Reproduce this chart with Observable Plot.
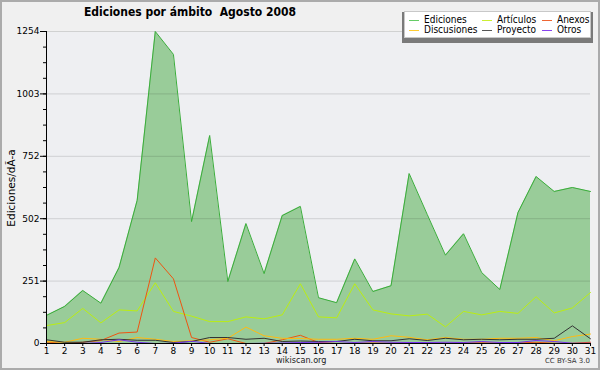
<!DOCTYPE html>
<html>
<head>
<meta charset="utf-8">
<script src="https://cdn.jsdelivr.net/npm/d3@7"></script>
<script src="https://cdn.jsdelivr.net/npm/@observablehq/plot@0.6"></script>
<style>
  html, body { margin: 0; padding: 0; background: #fff; }
  #wrap { position: relative; width: 600px; height: 370px; box-sizing: border-box; border: 2px solid #ababab; background: #f0f0f0; overflow: hidden; font-family: "DejaVu Sans", sans-serif; }
  #chart { position: absolute; left: -2px; top: -2px; width: 600px; height: 370px; }
  #chart svg { max-width: none; }
  .title { position: absolute; left: 0; width: 376px; top: 3px; text-align: center; font-family: "DejaVu Sans Condensed", "DejaVu Sans", sans-serif; font-weight: bold; font-size: 12px; color: #000; white-space: pre; }
  .ylab { position: absolute; left: 9px; top: 186px; transform: translate(-50%, -50%) rotate(-90deg); font-size: 10.5px; white-space: nowrap; }
  .foot { position: absolute; font-family: "DejaVu Sans Condensed", "DejaVu Sans", sans-serif; font-size: 9px; color: #222; }
  .cc { position: absolute; right: 8px; top: 355px; font-size: 7px; color: #333; }
  .legend { position: absolute; left: 402px; top: 9px; width: 185px; height: 25px; background: #fff; border: 1px solid #c8c8c8; box-shadow: 0 3px 0 2px #7a7a7a; font-family: "DejaVu Sans Condensed", "DejaVu Sans", sans-serif; font-size: 10px; }
  .li { position: absolute; white-space: nowrap; line-height: 10px; height: 10px; }
  .li span.sw { position: absolute; left: 0; top: 5px; width: 10px; height: 1px; }
  .li span.tx { position: absolute; left: 15px; top: 0; }
</style>
</head>
<body>
<div id="wrap">
  <div id="chart"></div>
</div>
<script>
const days = d3.range(1, 32);
const seriesNames = ["Ediciones", "Artículos", "Anexos", "Discusiones", "Proyecto", "Otros"];
const seriesColors = ["#3aad3a", "#bbee11", "#ee5511", "#ffbb11", "#333333", "#7733ee"];
const legendColors = ["#66cc66", "#ccee33", "#ee6633", "#ffcc33", "#555555", "#8844ee"];
const ediciones = [113, 149, 213, 162, 305, 575, 1254, 1162, 490, 836, 249, 482, 281, 514, 551, 184, 164, 340, 209, 232, 683, 518, 355, 441, 285, 217, 526, 671, 611, 627, 611];
const articulos = [72, 84, 141, 83, 135, 131, 244, 129, 110, 88, 88, 107, 99, 115, 240, 107, 103, 240, 135, 119, 111, 118, 67, 129, 115, 129, 121, 188, 123, 143, 205];
const anexos = [6, 0, 5, 12, 42, 46, 344, 260, 24, 5, 19, 0, 0, 15, 33, 4, 0, 1, 2, 1, 3, 2, 1, 2, 3, 1, 2, 5, 1, 1, 5];
const discusiones = [8, 5, 21, 17, 8, 24, 17, 8, 11, 15, 21, 66, 31, 21, 20, 17, 17, 21, 17, 31, 25, 15, 24, 17, 17, 21, 21, 24, 11, 28, 38];
const proyecto = [15, 5, 5, 15, 17, 13, 13, 4, 8, 24, 24, 17, 21, 8, 10, 8, 8, 17, 11, 11, 19, 12, 21, 15, 17, 15, 17, 17, 21, 71, 19];
const otros = [0, 0, 0, 4, 15, 5, 0, 1, 9, 0, 0, 0, 1, 2, 4, 5, 8, 4, 8, 5, 4, 4, 5, 4, 8, 4, 4, 12, 8, 1, 1];
const yTickValues = [0, 250.8, 501.6, 752.4, 1003.2, 1254];
const yTickLabels = ["0", "251", "502", "752", "1003", "1254"];
const titleText = "Ediciones por ámbito  Agosto 2008";
const yLabelText = "Ediciones/dÃ-a";
const footText = "wikiscan.org";
const ccText = "CC BY-SA 3.0";

const allSeries = [ediciones, articulos, anexos, discusiones, proyecto, otros];
const rows = [];
allSeries.forEach((arr, s) => days.forEach((d, i) => rows.push({day: d, value: arr[i], series: seriesNames[s]})));
const edRows = days.map((d, i) => ({day: d, value: ediciones[i]}));
const minorTicks = d3.range(0, 21).map(k => k * 1254 / 20);

const plot = Plot.plot({
  width: 600,
  height: 370,
  marginLeft: 46,
  marginRight: 10,
  marginTop: 31,
  marginBottom: 27,
  style: {background: "transparent", fontFamily: "DejaVu Sans, sans-serif", fontSize: "9px", color: "#000"},
  x: {domain: [1, 31]},
  y: {domain: [0, 1254]},
  marks: [
    Plot.frame({fill: "#eeeff2", stroke: null}),
    Plot.areaY(edRows, {x: "day", y: "value", fill: "#99cc99"}),
    Plot.ruleY(yTickValues.slice(1), {stroke: "#000", strokeOpacity: 0.13}),
    ...seriesNames.map((name, s) => Plot.lineY(rows.filter(r => r.series === name), {x: "day", y: "value", stroke: seriesColors[s], strokeWidth: 1})),
    Plot.axisY({ticks: minorTicks, tickSize: 3, tickFormat: () => "", label: null}),
    Plot.axisY({ticks: yTickValues, tickSize: 6, tickPadding: 1, tickFormat: (d, i) => yTickLabels[i], label: null}),
    Plot.axisX({ticks: days, tickSize: 3, tickPadding: 1, tickFormat: d => String(d), label: null}),
    Plot.ruleX([1], {stroke: "#000"}),
    Plot.ruleY([0], {stroke: "#000"})
  ]
});
document.getElementById("chart").appendChild(plot);

const wrap = document.getElementById("wrap");
function addDiv(cls, text, style) {
  const el = document.createElement("div");
  el.className = cls;
  el.textContent = text;
  Object.assign(el.style, style || {});
  wrap.appendChild(el);
  return el;
}
addDiv("title", titleText);
addDiv("ylab", yLabelText);
addDiv("foot", footText, {left: "274px", top: "353px"});
addDiv("cc", ccText);

const legend = document.createElement("div");
legend.className = "legend";
wrap.appendChild(legend);
const colX = [4, 77, 137];
seriesNames.forEach((name, k) => {
  const col = k % 3, row = Math.floor(k / 3);
  const li = document.createElement("div");
  li.className = "li";
  li.style.left = colX[col] + "px";
  li.style.top = (3 + row * 10) + "px";
  const sw = document.createElement("span");
  sw.className = "sw";
  sw.style.background = legendColors[k];
  const tx = document.createElement("span");
  tx.className = "tx";
  tx.textContent = name;
  li.appendChild(sw);
  li.appendChild(tx);
  legend.appendChild(li);
});
</script>
</body>
</html>
